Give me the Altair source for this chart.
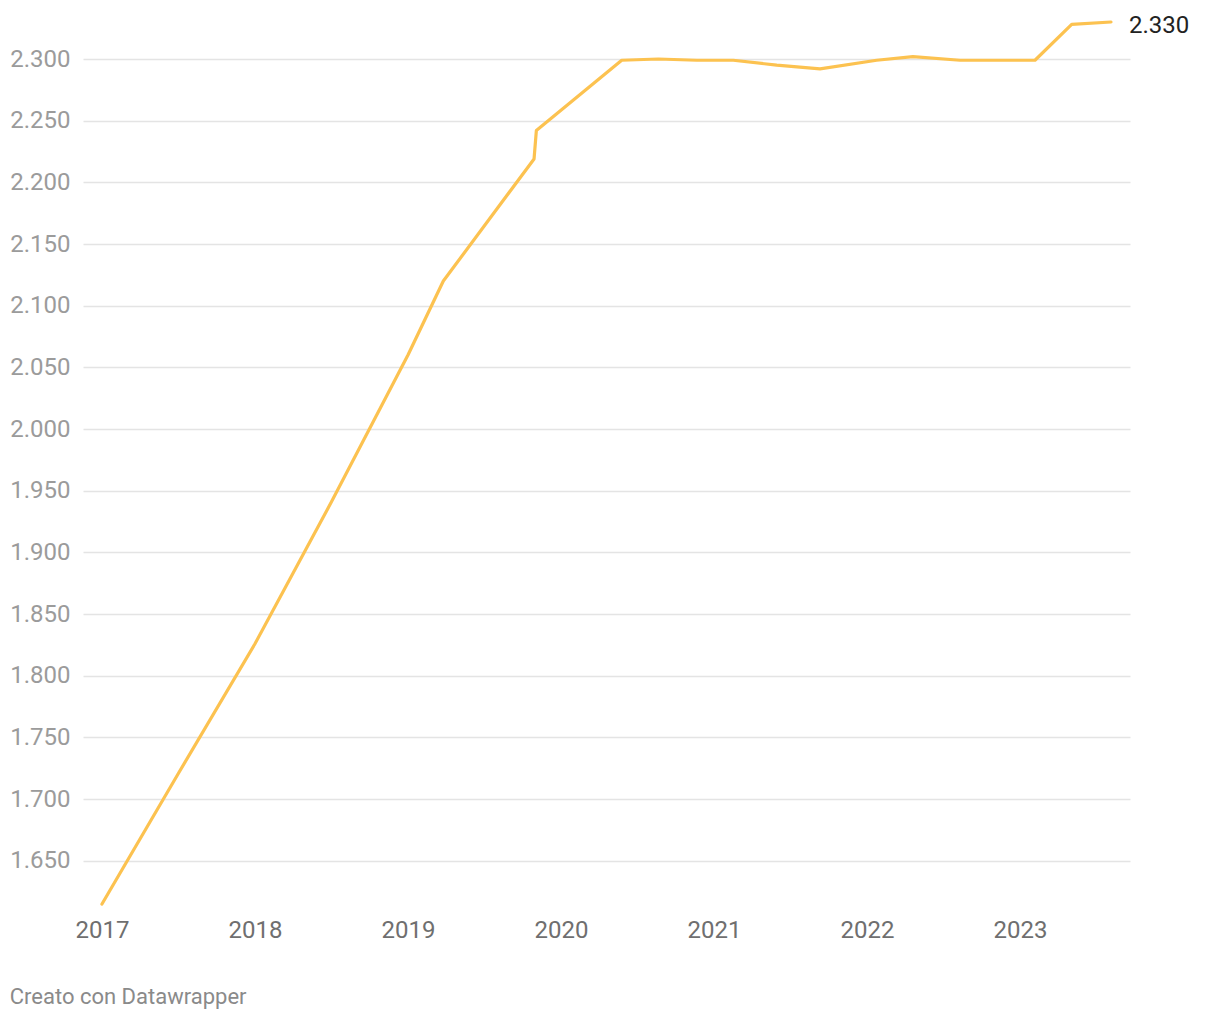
import altair as alt
import pandas as pd

# decimal years and values
years = [2017.0, 2017.5, 2018.0, 2018.5, 2019.0, 2019.231, 2019.824, 2019.839,
         2020.397, 2020.636, 2020.887, 2021.126, 2021.410, 2021.693, 2022.063,
         2022.30, 2022.608, 2023.098, 2023.338, 2023.595]
values = [1615, 1721, 1826, 1941, 2060, 2120, 2219, 2242,
          2299, 2300, 2299, 2299, 2295, 2292, 2299,
          2302, 2299, 2299, 2328, 2330]

x_ticks = [2017, 2018, 2019, 2020, 2021, 2022, 2023]
y_ticks = [1650, 1700, 1750, 1800, 1850, 1900, 1950, 2000, 2050, 2100, 2150, 2200, 2250, 2300]

df = pd.DataFrame({"anno": years, "valore": values})

LINE = "#fcc250"
FONT = "Roboto"

x = alt.X("anno:Q", scale=alt.Scale(domain=[2016.876, 2023.719], nice=False, zero=False),
          axis=alt.Axis(values=x_ticks, format="d", title=None, grid=False, domain=False,
                        ticks=False, labelFont=FONT, labelFontSize=24, labelColor="#6f6f6f",
                        labelPadding=14))
y = alt.Y("valore:Q", scale=alt.Scale(domain=[1615, 2330], nice=False, zero=False),
          axis=alt.Axis(values=y_ticks, title=None, domain=False, ticks=False,
                        labelExpr="replace(format(datum.value, ','), ',', '.')",
                        labelFont=FONT, labelFontSize=24, labelColor="#9b9b9b",
                        labelPadding=13, gridColor="#e4e4e4", gridWidth=1.5))

line = alt.Chart(df).mark_line(color=LINE, strokeWidth=3.2, strokeCap="round",
                               strokeJoin="round").encode(x=x, y=y)

label = alt.Chart(df).transform_window(
    rank="rank()", sort=[alt.SortField("anno", order="descending")]
).transform_filter("datum.rank == 1").transform_calculate(
    txt="replace(format(datum.valore, ','), ',', '.')"
).mark_text(align="left", baseline="middle", dx=18, dy=4, font=FONT, fontSize=24,
            color="#222222").encode(x=x, y=y, text="txt:N")

chart = alt.layer(line, label).properties(
    width=1047, height=882,
    background="white",
    autosize=alt.AutoSizeParams(type="none"),
    padding={"left": 83, "top": 22, "right": 90, "bottom": 116},
    title=alt.TitleParams("Creato con Datawrapper", orient="bottom", anchor="start",
                          frame="bounds", font=FONT, fontSize=22, fontWeight="normal",
                          color="#8a8a8a", offset=45),
).configure_view(strokeWidth=0, stroke="transparent")

chart.save("out.html", embed_options={"renderer": "svg", "actions": False})
